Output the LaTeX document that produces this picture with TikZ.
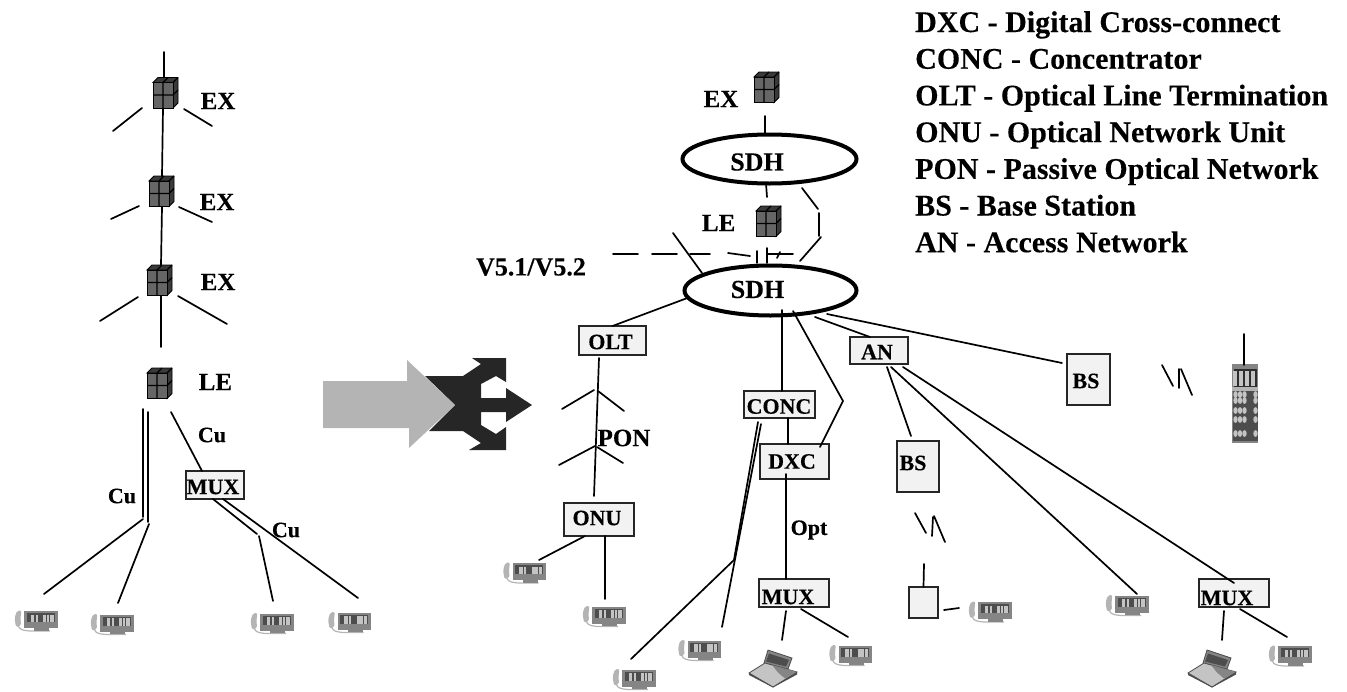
\documentclass[tikz,border=0pt]{standalone}
\usepackage{xcolor}
\usepackage{fontspec}
\setmainfont{Liberation Serif}[BoldFeatures={FakeBold=0.25}]
\usepackage{tikz}
\usetikzlibrary{shapes.geometric, positioning}

\definecolor{boxgrey}{HTML}{F2F2F2}
\definecolor{arrowlight}{HTML}{B4B4B4}
\definecolor{arrowdark}{HTML}{262626}
\definecolor{cubegrey}{HTML}{666666}
\definecolor{cubedark}{HTML}{3A3A3A}
\definecolor{bodygrey}{HTML}{858585}
\definecolor{panelgrey}{HTML}{4D4D4D}
\definecolor{keygrey}{HTML}{C4C4C4}

% moves a text inside its node, keeping the node centred on the same box
\newcommand{\nudge}[3]{\raisebox{#2}[\height][\depth]{\kern#1 #3\kern-#1}}

\begin{document}
\begin{tikzpicture}[
    x=1pt, y=-1pt,
    link/.style={line width=1.7pt, line cap=round},
    bigtext/.style={font=\fontsize{25}{27}\selectfont\bfseries, inner sep=0pt},
    smalltext/.style={font=\fontsize{22}{24}\selectfont\bfseries, inner sep=0pt},
    boxnode/.style={rectangle, draw=black!85, line width=1.8pt, fill=boxgrey, outer sep=0pt, inner sep=0pt, font=\fontsize{22}{24}\selectfont\bfseries},
    ring/.style={ellipse, draw, line width=4pt, fill=white, outer sep=0pt, inner sep=0pt, font=\fontsize{26}{28}\selectfont\bfseries},
    iconbox/.style={inner sep=0pt, outer sep=0pt},
    pics/exchange/.style={code={
        \node[iconbox, minimum width=25pt, minimum height=31pt] (-box) {};
        \filldraw[fill=cubedark, draw=black, line width=0.8pt] (-12.5,-10.5) -- (-7.5,-15.5) -- (12.5,-15.5) -- (12.5,10) -- (7.5,15) -- (7.5,-10.5) -- cycle;
        \filldraw[fill=cubegrey, draw=black, line width=1pt] (-12.5,-10.5) rectangle (7.5,15);
        \draw[line width=1.2pt] (-2.5,-10.5) -- (-2.5,15) (-12.5,2) -- (7.5,2) -- (12.5,-3) (-2.5,-10.5) -- (2.5,-15.5) (7.5,-10.5) -- (12.5,-15.5);
    }},
    pics/phone/.style={code={
        \node[iconbox, minimum width=42pt, minimum height=21pt] (-box) {};
        \draw[arrowlight, line width=1.2pt] (-18,3) .. controls (-17,10) and (-13,10.5) .. (14,10);
        \fill[bodygrey] (-11.8,-9.7) rectangle (21.5,7);
        \fill[bodygrey] (-2,7) rectangle (13,9.5);
        \fill[panelgrey] (-9.5,-8) rectangle (18.8,1.3);
        \foreach \lft/\rgt in {-5.5/-1.8, -0.5/1.5, 7/10, 10.5/13, 14.2/17.8}
            \fill[keygrey] (\lft,-6.5) rectangle (\rgt,1);
        \fill[arrowlight, rounded corners=2pt] (-21.5,-3) -- (-19,-10.5) -- (-14.5,-10.5) -- (-15.5,-4) -- (-15,5) -- (-20,6) -- cycle;
    }},
    pics/laptop/.style={code={
        \node[iconbox, minimum width=48pt, minimum height=37pt] (-box) {};
        \filldraw[fill=bodygrey, draw=black!70, line width=0.8pt] (-5,-18.5) -- (19,-10.5) -- (15,0.5) -- (-9,-5.5) -- cycle;
        \fill[panelgrey] (-4,-15) -- (16,-8.5) -- (13,-2) -- (-7,-7) -- cycle;
        \filldraw[fill=keygrey, draw=black!70, line width=0.8pt] (-24,4.5) -- (-8,-5.5) -- (24,3.5) -- (0,18.5) -- cycle;
        \fill[bodygrey] (-1,-3.5) -- (24,3.5) -- (12,10) -- (5,4) -- cycle;
        \fill[panelgrey] (-24,4.5) -- (0,18.5) -- (24,3.5) -- (24,6) -- (0,19) -- (-24,6.5) -- cycle;
    }},
    pics/handset/.style={code={
        \node[iconbox, minimum width=26pt, minimum height=79pt] (-box) {};
        \fill[bodygrey] (-13,-39.5) rectangle (13,39.5);
        \fill[panelgrey!60!black] (-11,-35) rectangle (12,-17);
        \fill[arrowlight] (-13,-17) rectangle (13,-13);
        \fill[panelgrey] (-12,-13) rectangle (13,37);
        \foreach \cx in {-9.5,-3.5,2.5,8.5}
            \fill[keygrey] (\cx-1.7,-33) rectangle (\cx+1.7,-18);
        \foreach \cx in {-9,-4.5,0,11}
            \foreach \cy in {-9,-3,7,16,30}
                \fill[keygrey] (\cx,\cy) ellipse [x radius=2.2pt, y radius=3.4pt];
    }}
]
    \useasboundingbox (0,0) rectangle (1347,691);

    % fat arrow between the two networks
    \fill[arrowdark] (425,376) -- (463,376) -- (481,364) -- (472,358) -- (506,358) -- (506,382) -- (496,376) -- (481,384) -- (481,398) -- (506,398) -- (506,388) -- (532,405) -- (506,422) -- (506,412) -- (481,412) -- (481,425) -- (496,434) -- (506,427) -- (506,450) -- (469,450) -- (481,443) -- (463,431) -- (429,431) -- (455,405) -- cycle;
    \fill[arrowlight] (323,381) -- (407,381) -- (407,360) -- (455,405) -- (409,448) -- (409,428) -- (323,428) -- cycle;

    % left tree
    \pic (exa) at (165.5,93) {exchange};
    \pic (exb) at (161.5,191.5) {exchange};
    \pic (exc) at (159.5,280.5) {exchange};
    \pic (lea) at (159.5,383.5) {exchange};
    \node[bigtext, right=22.5pt of exa-box, yshift=-8pt] (exalabel) {EX};
    \node[bigtext, right=25.5pt of exb-box, yshift=-10.5pt] (exblabel) {EX};
    \node[bigtext, right=28.5pt of exc-box, yshift=-1.5pt] (exclabel) {EX};
    \node[bigtext, right=26.5pt of lea-box, yshift=1.5pt] (lealabel) {LE};
    \node[boxnode, minimum width=58pt, minimum height=28pt] (muxa) at (215,485) {\nudge{-2pt}{-2pt}{MUX}};
    \node[smalltext] (cua) at (212,435) {Cu};
    \node[smalltext] (cub) at (122,496) {Cu};
    \node[smalltext] (cuc) at (286,530) {Cu};
    \pic (pha) at (36,621) {phone};
    \pic (phb) at (112,624.5) {phone};
    \pic (phc) at (272,623.5) {phone};
    \pic (phd) at (349.5,622.5) {phone};

    % right network
    \pic (exd) at (766.5,87.5) {exchange};
    \pic (leb) at (768.5,221.5) {exchange};
    \node[bigtext, left=15.5pt of exd-box, yshift=-11.5pt] (exdlabel) {EX};
    \node[bigtext, left=20.5pt of leb-box, yshift=-1.5pt] (leblabel) {LE};
    \node[ring, minimum width=174pt, minimum height=49pt] (sdha) at (769.5,159) {\nudge{-12.5pt}{-3pt}{SDH}};
    \node[ring, minimum width=172pt, minimum height=50pt] (sdhb) at (770.5,290.5) {\nudge{-13pt}{1pt}{SDH}};
    \node[font=\fontsize{26}{28}\selectfont\bfseries, inner sep=0pt] (vfive) at (531,267) {V5.1/V5.2};
    \node[boxnode, minimum width=67pt, minimum height=29pt] (olt) at (612.5,340.5) {\nudge{-2pt}{-1.5pt}{OLT}};
    \node[boxnode, minimum width=70pt, minimum height=33pt] (onu) at (599,519.5) {\nudge{-2pt}{1.5pt}{ONU}};
    \node[bigtext] (pon) at (624,438) {PON};
    \node[boxnode, minimum width=71pt, minimum height=27pt] (conc) at (779.5,404.5) {\nudge{-0.5pt}{-2pt}{CONC}};
    \node[boxnode, minimum width=69pt, minimum height=35pt] (dxc) at (794.5,461.5) {\nudge{-2.5pt}{0pt}{DXC}};
    \node[boxnode, minimum width=70pt, minimum height=28pt] (muxb) at (794,593) {\nudge{-6pt}{-4pt}{MUX}};
    \node[smalltext] (opt) at (809,530) {Opt};
    \node[boxnode, minimum width=58pt, minimum height=27pt] (an) at (879,350.5) {\nudge{-2pt}{-1.5pt}{AN}};
    \node[boxnode, minimum width=42pt, minimum height=51pt] (bsa) at (918,466.5) {\nudge{-5pt}{3.5pt}{BS}};
    \node[boxnode, minimum width=43pt, minimum height=51pt] (bsb) at (1088.5,379.5) {\nudge{-2.5pt}{-1.5pt}{BS}};
    \node[boxnode, minimum width=29pt, minimum height=31pt] (mobile) at (923.5,602.5) {};
    \node[boxnode, minimum width=70pt, minimum height=28pt] (muxc) at (1234,593) {\nudge{-7pt}{-5pt}{MUX}};
    \pic (phe) at (524.5,573) {phone};
    \pic (phf) at (604,616.5) {phone};
    \pic (phg) at (634,679.5) {phone};
    \pic (phh) at (699.5,650.5) {phone};
    \pic (phi) at (850.5,655.5) {phone};
    \pic (phj) at (990,612) {phone};
    \pic (phk) at (1127,605.5) {phone};
    \pic (phl) at (1290,656) {phone};
    \pic (lpa) at (773,668.5) {laptop};
    \pic (lpb) at (1212,668.5) {laptop};
    \pic (hsa) at (1244.5,403.5) {handset};

    % abbreviations
    \node[anchor=north west, align=left, inner sep=0pt, font=\fontsize{30}{36.7}\selectfont\bfseries] (legend) at (915,11) {DXC - Digital Cross-connect\\CONC - Concentrator\\OLT - Optical Line Termination\\ONU - Optical Network Unit\\PON - Passive Optical Network\\BS - Base Station\\AN - Access Network};

    % free ends, left tree
    \coordinate (topa) at (164,52);
    \coordinate (exaw) at (142,108); \coordinate (exawend) at (113,131);
    \coordinate (exae) at (184,109); \coordinate (exaeend) at (212,126);
    \coordinate (exbw) at (139,206); \coordinate (exbwend) at (111,219);
    \coordinate (exbe) at (179,207); \coordinate (exbeend) at (212,222);
    \coordinate (excw) at (138,297); \coordinate (excwend) at (100,321);
    \coordinate (exce) at (178,296); \coordinate (exceend) at (227,324);
    \coordinate (excs) at (161,347);
    \coordinate (leaa) at (143,409); \coordinate (leaaend) at (143,517);
    \coordinate (leab) at (148,412); \coordinate (leabend) at (148,522);
    \coordinate (leac) at (171,412);
    \coordinate (spla) at (143,519); \coordinate (splb) at (149,524);
    \coordinate (phaend) at (44,594); \coordinate (phbend) at (118,603);
    \coordinate (muxaend) at (257,534); \coordinate (splc) at (259,536);
    \coordinate (phcend) at (273,601); \coordinate (phdend) at (358,598);

    % free ends, right network
    \coordinate (exdend) at (765,116);
    \coordinate (sdhaend) at (767,197);
    \coordinate (ringa) at (802,188); \coordinate (ringb) at (818,209);
    \coordinate (ringc) at (819,213); \coordinate (ringd) at (819,236);
    \coordinate (ringe) at (821,237); \coordinate (ringf) at (800,261);
    \coordinate (vlinea) at (613,254); \coordinate (vlineb) at (638,254);
    \coordinate (vlinec) at (652,254); \coordinate (vlined) at (677,254);
    \coordinate (vlinee) at (690,254); \coordinate (vlinef) at (710,254);
    \coordinate (vlineg) at (728,253); \coordinate (vlineh) at (750,256);
    \coordinate (vlinei) at (767,254); \coordinate (vlinej) at (793,254);
    \coordinate (ticka) at (757,251); \coordinate (tickb) at (757,263);
    \coordinate (tickc) at (767,248); \coordinate (tickd) at (767,263);
    \coordinate (ticke) at (780,252); \coordinate (tickf) at (777,258);
    \coordinate (slanta) at (673,233); \coordinate (slantb) at (702,273);
    \coordinate (oltend) at (599,358); \coordinate (onuend) at (594,496);
    \coordinate (pona) at (594,390); \coordinate (ponaend) at (562,409);
    \coordinate (ponb) at (598,391); \coordinate (ponbend) at (624,411);
    \coordinate (ponc) at (595,446); \coordinate (poncend) at (559,465);
    \coordinate (pond) at (597,447); \coordinate (pondend) at (623,463);
    \coordinate (phelink) at (539,560); \coordinate (phflink) at (605,599);
    \coordinate (sdhbc) at (782,310);
    \coordinate (sdhbd) at (793,311); \coordinate (bend) at (843,401); \coordinate (dxcin) at (820,447);
    \coordinate (sdhbe) at (815,317);
    \coordinate (sdhbf) at (827,314); \coordinate (bsbend) at (1062,363);
    \coordinate (conca) at (758,422); \coordinate (splg) at (734,560);
    \coordinate (concb) at (761,424); \coordinate (phhend) at (722,627);
    \coordinate (phgend) at (631,659);
    \coordinate (dxcout) at (786,474);
    \coordinate (muxbl) at (786,611); \coordinate (lpaend) at (782,640);
    \coordinate (muxbr) at (801,609); \coordinate (phiend) at (848,637);
    \coordinate (ana) at (887,367); \coordinate (bsaend) at (911,436);
    \coordinate (anb) at (891,367); \coordinate (phkend) at (1137,594);
    \coordinate (anc) at (903,367); \coordinate (muxcin) at (1234,583);
    \coordinate (waveb) at (915,513); \coordinate (wavec) at (926,533);
    \coordinate (waved) at (932,536); \coordinate (wavee) at (933,517);
    \coordinate (wavef) at (934,516); \coordinate (waveg) at (945,542);
    \coordinate (mobtop) at (924,564);
    \coordinate (mobr) at (944,610); \coordinate (phjend) at (959,608);
    \coordinate (wavei) at (1162,365); \coordinate (wavej) at (1173,386);
    \coordinate (wavek) at (1179,388); \coordinate (wavel) at (1179,369);
    \coordinate (wavem) at (1181,369); \coordinate (waven) at (1192,395);
    \coordinate (hstop) at (1244,334); \coordinate (hsin) at (1244,365);
    \coordinate (muxcl) at (1224,611); \coordinate (lpbend) at (1222,640);
    \coordinate (muxcr) at (1240,609); \coordinate (phlend) at (1287,637);

    % connectors
    \draw[link] (topa) -- ([xshift=-1.5pt]exa-box.north);
    \draw[link] ([xshift=-2.5pt]exa-box.south) -- ([xshift=0.5pt]exb-box.north);
    \draw[link] ([xshift=0.5pt]exb-box.south) -- ([xshift=1.5pt]exc-box.north);
    \draw[link] ([xshift=1.5pt]exc-box.south) -- (excs);
    \draw[link] (leac) -- ([xshift=-13pt]muxa.north);
    \draw[link] (leaa) -- (leaaend);
    \draw[link] (leab) -- (leabend);
    \draw[link] ([xshift=-2pt]muxa.south) -- (muxaend);
    \draw[link] ([xshift=8pt]muxa.south) -- (phdend);
    \draw[link] ([xshift=-4.5pt]sdha.north) -- (exdend);
    \draw[link] ([xshift=-3.5pt]sdha.south) -- (sdhaend);
    \draw[link] (sdhb.185) -- (olt.north);
    \draw[link] (oltend) -- (onuend);
    \draw[link] ([xshift=-14pt]onu.south) -- (phelink);
    \draw[link] ([xshift=6pt]onu.south) -- (phflink);
    \draw[link] (sdhbc) -- ([xshift=2.5pt]conc.north);
    \draw[link] (sdhbd) -- (bend) -- (dxcin);
    \draw[link] (sdhbe) -- ([xshift=-9pt]an.north);
    \draw[link] (sdhbf) -- (bsbend);
    \draw[link] ([xshift=8.5pt]conc.south) -- ([xshift=-6.5pt]dxc.north);
    \draw[link] (dxcout) -- ([xshift=-8pt]muxb.north);
    \draw[link] (ana) -- (bsaend);
    \draw[link] (anb) -- (phkend);
    \draw[link] (anc) -- (muxcin);
    \draw[link] (mobtop) -- (mobile.north);
    \draw[link] (hstop) -- (hsin);

    % short stubs, not joined to anything
    \foreach \from/\to in {exaw/exawend, exae/exaeend, exbw/exbwend, exbe/exbeend, excw/excwend, exce/exceend,
        spla/phaend, splb/phbend, splc/phcend,
        ringa/ringb, ringc/ringd, ringe/ringf,
        vlinea/vlineb, vlinec/vlined, vlinee/vlinef, vlineg/vlineh, vlinei/vlinej,
        ticka/tickb, tickc/tickd, ticke/tickf, slanta/slantb,
        pona/ponaend, ponb/ponbend, ponc/poncend, pond/pondend,
        conca/splg, concb/phhend, splg/phgend,
        muxbl/lpaend, muxbr/phiend, muxcl/lpbend, muxcr/phlend,
        waveb/wavec, waved/wavee, wavef/waveg, mobr/phjend,
        wavei/wavej, wavek/wavel, wavem/waven}
        \draw[link] (\from) -- (\to);
\end{tikzpicture}
\end{document}
